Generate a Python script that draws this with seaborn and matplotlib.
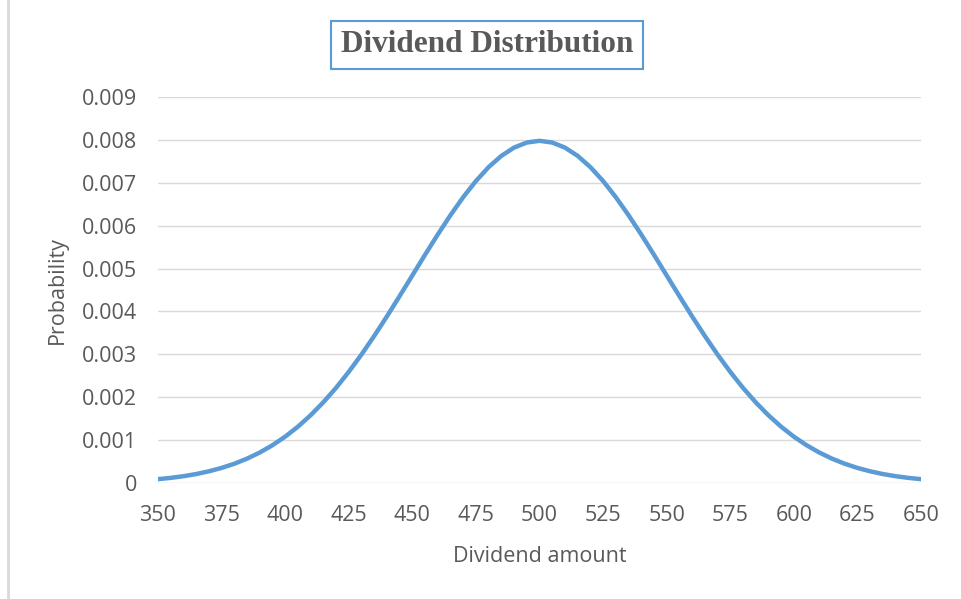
import matplotlib
matplotlib.use("Agg")
import matplotlib.pyplot as plt
import seaborn as sns
import pandas as pd
from matplotlib.lines import Line2D
from matplotlib.ticker import FuncFormatter

# values, every 5 units of dividend amount
dividend = list(range(350, 655, 5))
probability = [
    0.000089, 0.000119, 0.000158, 0.000208, 0.000272, 0.000351, 0.000448,
    0.000567, 0.000710, 0.000880, 0.001080, 0.001312, 0.001579, 0.001881,
    0.002218, 0.002591, 0.002995, 0.003428, 0.003884, 0.004358, 0.004839,
    0.005322, 0.005794, 0.006245, 0.006665, 0.007041, 0.007366, 0.007628,
    0.007821, 0.007939, 0.007979, 0.007939, 0.007821, 0.007628, 0.007366,
    0.007041, 0.006665, 0.006245, 0.005794, 0.005322, 0.004839, 0.004358,
    0.003884, 0.003428, 0.002995, 0.002591, 0.002218, 0.001881, 0.001579,
    0.001312, 0.001080, 0.000880, 0.000710, 0.000567, 0.000448, 0.000351,
    0.000272, 0.000208, 0.000158, 0.000119, 0.000089,
]
x_ticks = list(range(350, 675, 25))
y_ticks = [i / 1000 for i in range(0, 10)]

title = "Dividend Distribution"
x_label = "Dividend amount"
y_label = "Probability"

blue = "#5B9BD5"
grey_text = "#595959"
grid_grey = "#d9d9d9"

sns.set_style("white")
plt.rcParams["font.family"] = ["Open Sans", "DejaVu Sans"]

df = pd.DataFrame({"Dividend": dividend, "Probability": probability})

fig = plt.figure(figsize=(9.61, 5.99), dpi=100)
ax = fig.add_axes([0.1644, 0.1937, 0.9584 - 0.1644, 0.838 - 0.1937])

sns.lineplot(data=df, x="Dividend", y="Probability", ax=ax,
             color=blue, linewidth=3.2, zorder=3)

ax.set_xlim(350, 650)
ax.set_ylim(0, 0.009)
ax.set_xticks(x_ticks)
ax.set_yticks(y_ticks)
ax.yaxis.set_major_formatter(FuncFormatter(lambda v, p: f"{v:g}"))
ax.grid(axis="y", color=grid_grey, linewidth=1)
ax.grid(axis="x", visible=False)
for s in ax.spines.values():
    s.set_visible(False)
ax.tick_params(axis="both", length=0, labelcolor=grey_text, labelsize=15.5)
ax.tick_params(axis="y", pad=15)
ax.tick_params(axis="x", pad=16)

ax.set_xlabel(x_label, fontsize=15.5, color=grey_text, labelpad=14)
ax.set_ylabel(y_label, fontsize=15.5, color=grey_text, labelpad=10)

fig.text(0.5068, 0.925, title, ha="center", va="center",
         family="Liberation Serif", fontweight="bold", fontsize=22.5,
         color=grey_text,
         bbox=dict(boxstyle="square,pad=0.3", facecolor="white",
                   edgecolor=blue, linewidth=1.5))

# left edge of the chart frame
fig.add_artist(Line2D([8 / 961, 8 / 961], [0, 1], transform=fig.transFigure,
                      color=grid_grey, linewidth=2))

fig.savefig("out.png", dpi=100)
